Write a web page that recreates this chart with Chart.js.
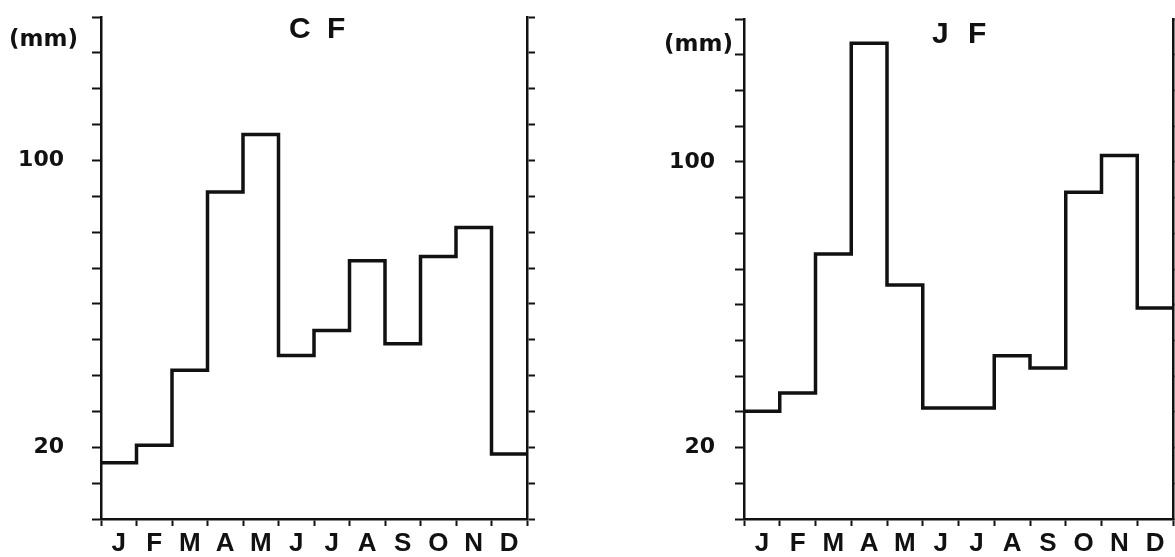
<!DOCTYPE html>
<html lang="en">
<head>
  <meta charset="UTF-8">
  <title>Monthly rainfall C F / J F</title>
  <script src="https://cdn.jsdelivr.net/npm/chart.js"></script>
  <style>
    body { margin: 0; background: #fff; }
    #wrap { position: relative; width: 1175px; height: 557px; overflow: hidden; }
    canvas { position: absolute; top: 0; }
    .lbl { position: absolute; color: #111; white-space: pre; line-height: 1; }
    .unit { font: bold 23px "DejaVu Sans", sans-serif; }
    .ttl { font: bold 30px "Liberation Sans", Arial, sans-serif; }
  </style>
</head>
<body>
  <div id="wrap">
    <canvas id="chartCF" width="590" height="557" style="left:0"></canvas>
    <canvas id="chartJF" width="585" height="557" style="left:590px"></canvas>
    <div class="lbl unit" style="left:9px;top:25px">(mm)</div>
    <div class="lbl unit" style="left:664px;top:30px">(mm)</div>
    <div class="lbl ttl" style="left:289px;top:11px;word-spacing:8px">C F</div>
    <div class="lbl ttl" style="left:932px;top:16px;word-spacing:11px">J F</div>
  </div>

  <script>
    // monthly rainfall (mm)
    const months = ['J', 'F', 'M', 'A', 'M', 'J', 'J', 'A', 'S', 'O', 'N', 'D'];
    const rainCF = [15.7, 20.6, 41.5, 91.2, 107.2, 45.6, 52.6, 72.0, 48.9, 73.2, 81.3, 18.1];
    const rainJF = [30.2, 35.3, 74.2, 133.2, 65.5, 31.1, 31.1, 45.7, 42.3, 91.5, 101.8, 59.1];
    const yLabelled = [20, 100];
    const yMax = 140;

    const ink = '#111';

    // step line: each month's value holds from its start to the next month
    function stepPoints(values) {
      const pts = values.map((v, i) => ({ x: i, y: v }));
      pts.push({ x: values.length, y: values[values.length - 1] });
      return pts;
    }

    // kill the label overhang padding so the plot box lands where we put it
    function noPad(s) {
      s.paddingTop = 0; s.paddingBottom = 0; s.paddingLeft = 0; s.paddingRight = 0;
    }

    function makeChart(id, values, o) {
      const ctx = document.getElementById(id).getContext('2d');
      return new Chart(ctx, {
        type: 'line',
        data: {
          datasets: [{
            data: stepPoints(values),
            stepped: true,
            borderColor: ink,
            borderWidth: 3.5,
            pointRadius: 0,
            borderJoinStyle: 'miter',
            fill: false
          }]
        },
        options: {
          responsive: false,
          animation: false,
          layout: { padding: { top: o.top, left: 0, right: 0, bottom: 0 } },
          plugins: { legend: { display: false }, tooltip: { enabled: false } },
          scales: {
            x: {
              type: 'linear',
              min: 0,
              max: 12,
              afterFit: s => { noPad(s); s.height = 557 - o.bottom; },
              ticks: {
                stepSize: 0.5,
                autoSkip: false,
                maxRotation: 0,
                padding: 2,
                color: ink,
                font: { family: '"Liberation Sans", Arial, sans-serif', size: 26, weight: 'bold' },
                callback: v => Number.isInteger(v) ? '' : months[Math.floor(v)]
              },
              grid: {
                drawOnChartArea: false,
                tickLength: 7,
                tickWidth: 2,
                tickColor: c => (c.tick && Number.isInteger(c.tick.value)) ? ink : 'rgba(0,0,0,0)'
              },
              border: { color: ink, width: 2.5 }
            },
            y: {
              position: 'left',
              min: 0,
              max: yMax,
              afterFit: s => { noPad(s); s.width = o.left; },
              ticks: {
                stepSize: 10,
                padding: o.labelPad,
                color: ink,
                font: { family: '"DejaVu Sans", sans-serif', size: 22, weight: 'bold' },
                callback: v => yLabelled.includes(v) ? String(v) : ''
              },
              grid: { drawOnChartArea: false, tickLength: 9, tickWidth: 2, tickColor: ink },
              border: { color: ink, width: 2.5 }
            },
            y2: {
              position: 'right',
              min: 0,
              max: yMax,
              afterFit: s => { noPad(s); s.width = o.rightW; },
              ticks: { stepSize: 10, callback: () => '' },
              grid: { drawOnChartArea: false, tickLength: 8, tickWidth: 2, tickColor: ink },
              border: { color: ink, width: 2.5 }
            }
          }
        }
      });
    }

    makeChart('chartCF', rainCF, { top: 17, bottom: 519, left: 101, rightW: 63, labelPad: 28 });
    makeChart('chartJF', rainJF, { top: 19, bottom: 519, left: 154, rightW: 2, labelPad: 20 });
  </script>
</body>
</html>
